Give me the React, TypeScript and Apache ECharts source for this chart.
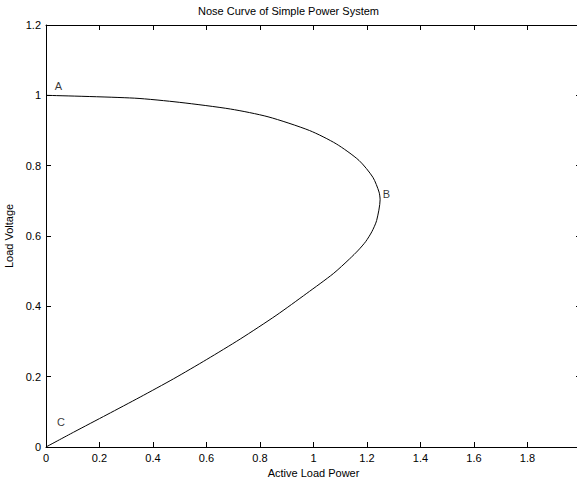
import React, { useEffect, useRef } from "react";
import * as echarts from "echarts";

const activePower = [
  0, 0.33, 0.5, 0.69, 0.83, 0.985, 1.085, 1.17, 1.222, 1.245, 1.249, 1.236,
  1.218, 1.195, 1.168, 1.135, 1.074, 0.975, 0.86, 0.726, 0.601, 0.477, 0.352,
  0.228, 0.103, 0,
];
const loadVoltage = [
  1.0, 0.992, 0.98, 0.961, 0.939, 0.9, 0.862, 0.815, 0.767, 0.725, 0.703, 0.644,
  0.612, 0.584, 0.56, 0.535, 0.493, 0.437, 0.374, 0.307, 0.249, 0.194, 0.142,
  0.092, 0.042, 0,
];
const pointNames = ["A", "B", "C"];
const pointX = [0.033, 1.259, 0.041];
const pointY = [1.027, 0.72, 0.072];

const xTicks = { min: 0, max: 2, interval: 0.2 };
const yTicks = { min: 0, max: 1.2, interval: 0.2 };

const FONT = "'Liberation Sans', Arial, Helvetica, sans-serif";

export default function App() {
  const ref = useRef<HTMLDivElement>(null);
  useEffect(() => {
    if (!ref.current) return;
    const chart = echarts.init(ref.current, undefined, { renderer: "svg" });
    const axisLine = { show: true, onZero: false, lineStyle: { color: "#000", width: 1 } };
    const tick = { show: true, inside: true, length: 5, lineStyle: { color: "#000", width: 1 } };
    const label = { color: "#000", fontSize: 11, fontFamily: FONT };
    chart.setOption({
      animation: false,
      backgroundColor: "#fff",
      title: {
        text: "Nose Curve of Simple Power System",
        left: "center",
        top: 0,
        textStyle: { color: "#000", fontSize: 11, fontWeight: "normal", fontFamily: FONT },
      },
      grid: {
        left: 46,
        right: -4,
        top: 25,
        bottom: 33,
        containLabel: false,
        outerBoundsMode: "none",
      },
      xAxis: [
        {
          type: "value",
          ...xTicks,
          position: "bottom",
          name: "Active Load Power",
          nameLocation: "middle",
          nameGap: 12,
          nameTextStyle: { color: "#000", fontSize: 11, fontFamily: FONT },
          axisLine,
          axisTick: tick,
          axisLabel: {
            ...label,
            margin: 5,
            formatter: (v: number) => (v >= 1.99 ? "" : String(Math.round(v * 10) / 10)),
          },
          splitLine: { show: false },
        },
        {
          type: "value",
          ...xTicks,
          position: "top",
          axisLine,
          axisTick: tick,
          axisLabel: { show: false },
          splitLine: { show: false },
        },
      ],
      yAxis: [
        {
          type: "value",
          ...yTicks,
          position: "left",
          name: "Load Voltage",
          nameLocation: "middle",
          nameGap: 17,
          nameTextStyle: { color: "#000", fontSize: 11, fontFamily: FONT },
          axisLine,
          axisTick: tick,
          axisLabel: {
            ...label,
            margin: 5,
            formatter: (v: number) => String(Math.round(v * 10) / 10),
          },
          splitLine: { show: false },
        },
        {
          type: "value",
          ...yTicks,
          position: "right",
          axisLine,
          axisTick: tick,
          axisLabel: { show: false },
          splitLine: { show: false },
        },
      ],
      series: [
        {
          type: "line",
          data: activePower.map((p, i) => [p, loadVoltage[i]]),
          showSymbol: false,
          symbol: "none",
          lineStyle: { color: "#000", width: 1 },
          smooth: 0.25,
          silent: true,
        },
        {
          type: "scatter",
          data: pointNames.map((n, i) => ({ name: n, value: [pointX[i], pointY[i]] })),
          symbolSize: 0,
          label: {
            show: true,
            position: "right",
            distance: 0,
            formatter: "{b}",
            color: "#000",
            fontSize: 11,
            fontFamily: FONT,
          },
          silent: true,
        },
      ],
    });
    return () => chart.dispose();
  }, []);
  return (
    <div
      ref={ref}
      style={{ position: "absolute", left: 0, top: 0, width: 577, height: 480 }}
    />
  );
}
